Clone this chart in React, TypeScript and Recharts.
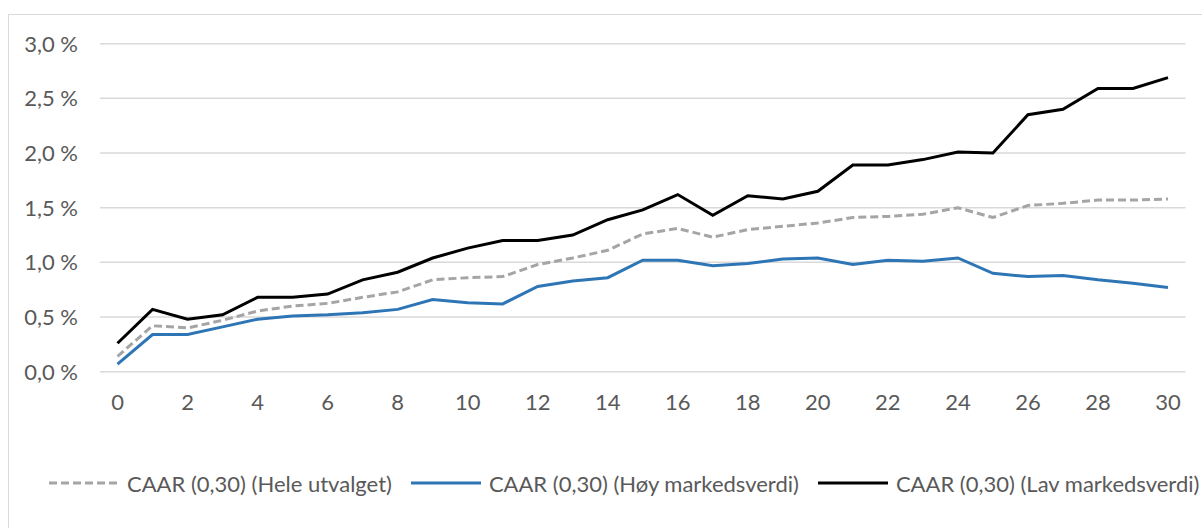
import React from 'react';
import { LineChart, Line, XAxis, YAxis, CartesianGrid, Legend } from 'recharts';

// Event days 0..30
const days: number[] = [
  0, 1, 2, 3, 4, 5, 6, 7, 8, 9, 10, 11, 12, 13, 14, 15,
  16, 17, 18, 19, 20, 21, 22, 23, 24, 25, 26, 27, 28, 29, 30,
];

// CAAR in percent
const heleUtvalget: number[] = [
  0.14, 0.42, 0.40, 0.47, 0.555, 0.60, 0.625, 0.68, 0.73, 0.84, 0.86, 0.87, 0.98, 1.04, 1.11, 1.26,
  1.31, 1.23, 1.30, 1.33, 1.36, 1.41, 1.42, 1.44, 1.50, 1.41, 1.52, 1.54, 1.57, 1.57, 1.58,
];
const hoyMarkedsverdi: number[] = [
  0.07, 0.34, 0.34, 0.41, 0.48, 0.51, 0.52, 0.54, 0.57, 0.66, 0.63, 0.62, 0.78, 0.83, 0.86, 1.02,
  1.02, 0.97, 0.99, 1.03, 1.04, 0.98, 1.02, 1.01, 1.04, 0.90, 0.87, 0.88, 0.84, 0.81, 0.77,
];
const lavMarkedsverdi: number[] = [
  0.26, 0.57, 0.48, 0.52, 0.68, 0.68, 0.71, 0.84, 0.91, 1.04, 1.13, 1.20, 1.20, 1.25, 1.39, 1.48,
  1.62, 1.43, 1.61, 1.58, 1.65, 1.89, 1.89, 1.94, 2.01, 2.00, 2.35, 2.40, 2.59, 2.59, 2.69,
];

const xTicks: number[] = [0, 2, 4, 6, 8, 10, 12, 14, 16, 18, 20, 22, 24, 26, 28, 30];
const yTicks: number[] = [0, 0.5, 1.0, 1.5, 2.0, 2.5, 3.0];

const seriesNames = {
  hele: 'CAAR (0,30) (Hele utvalget)',
  hoy: 'CAAR (0,30) (Høy markedsverdi)',
  lav: 'CAAR (0,30) (Lav markedsverdi)',
};

const data = days.map((d, i) => ({
  day: d,
  hele: heleUtvalget[i],
  hoy: hoyMarkedsverdi[i],
  lav: lavMarkedsverdi[i],
}));

const FONT = 'Lato, "Open Sans", sans-serif';
const FONT_SIZE = 22;
const TEXT = '#595959';
const GRID = '#d9d9d9';
const DASH = '8 4';

const legendItems = [
  { key: 'hele', color: '#a5a5a5', dash: DASH },
  { key: 'hoy', color: '#2e75b6', dash: undefined },
  { key: 'lav', color: '#000000', dash: undefined },
];

const LegendContent = () => (
  <div
    style={{
      display: 'flex',
      alignItems: 'center',
      height: 40,
      fontFamily: FONT,
      fontSize: FONT_SIZE,
      color: TEXT,
      whiteSpace: 'nowrap',
    }}
  >
    {legendItems.map((it, idx) => (
      <div
        key={it.key}
        style={{ display: 'flex', alignItems: 'center', marginLeft: idx === 0 ? 0 : 19 }}
      >
        <svg width={70} height={6} style={{ marginRight: 8 }}>
          <line
            x1={0}
            y1={3}
            x2={70}
            y2={3}
            stroke={it.color}
            strokeWidth={3}
            strokeDasharray={it.dash}
          />
        </svg>
        <span>{seriesNames[it.key as keyof typeof seriesNames]}</span>
      </div>
    ))}
  </div>
);

const fmtPct = (v: number) => v.toFixed(1).replace('.', ',') + '\u00a0%';

export default function App() {
  return (
    <div
      style={{
        position: 'absolute',
        left: 8,
        top: 14,
        width: 1194,
        height: 514,
        borderTop: `1px solid ${GRID}`,
        borderLeft: `1px solid ${GRID}`,
        background: '#fff',
        overflow: 'hidden',
      }}
    >
      <LineChart
        width={1193}
        height={513}
        data={data}
        margin={{ top: 28.7, right: 16.5, left: 0, bottom: 76.3 }}
      >
        <CartesianGrid vertical={false} stroke={GRID} strokeWidth={1.5} />
        <XAxis
          dataKey="day"
          type="number"
          domain={[-0.5, 30.5]}
          ticks={xTicks}
          axisLine={false}
          tickLine={false}
          tickSize={0}
          tickMargin={23}
          height={40}
          tick={{ fill: TEXT, fontSize: FONT_SIZE, fontFamily: FONT }}
        />
        <YAxis
          type="number"
          domain={[0, 3]}
          ticks={yTicks}
          axisLine={false}
          tickLine={false}
          tickSize={0}
          tickMargin={22}
          width={91}
          tickFormatter={fmtPct}
          tick={{ fill: TEXT, fontSize: FONT_SIZE, fontFamily: FONT }}
        />
        <Legend
          verticalAlign="bottom"
          content={<LegendContent />}
          wrapperStyle={{ left: 40, bottom: 25, width: 'auto', height: 40 }}
        />
        <Line
          dataKey="hele"
          name={seriesNames.hele}
          stroke="#a5a5a5"
          strokeWidth={3}
          strokeDasharray={DASH}
          dot={false}
          isAnimationActive={false}
        />
        <Line
          dataKey="hoy"
          name={seriesNames.hoy}
          stroke="#2e75b6"
          strokeWidth={3}
          dot={false}
          isAnimationActive={false}
        />
        <Line
          dataKey="lav"
          name={seriesNames.lav}
          stroke="#000000"
          strokeWidth={3}
          dot={false}
          isAnimationActive={false}
        />
      </LineChart>
    </div>
  );
}
